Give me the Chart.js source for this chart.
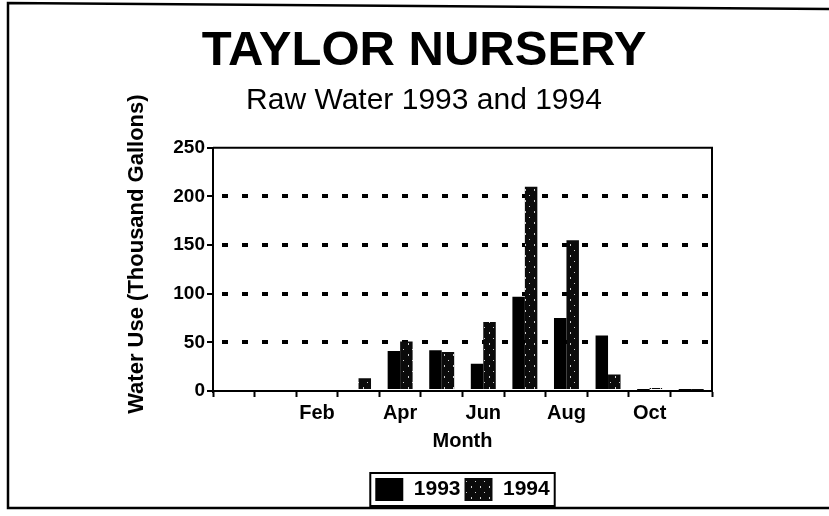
<!DOCTYPE html>
<html>
<head>
<meta charset="utf-8">
<script src="https://cdn.jsdelivr.net/npm/chart.js@4/dist/chart.umd.min.js"></script>
<style>
html,body{margin:0;padding:0;background:#fff;}
#wrap{width:829px;height:516px;position:relative;}
</style>
</head>
<body>
<div id="wrap"><canvas id="c" width="829" height="516"></canvas></div>
<script>
// ---- data ----
const months = ['', 'Jan', 'Feb', 'Mar', 'Apr', 'May', 'Jun', 'Jul', 'Aug', 'Sep', 'Oct', 'Nov'];
const tickLabels = ['', '', 'Feb', '', 'Apr', '', 'Jun', '', 'Aug', '', 'Oct', ''];
const use1993 = [0, 0, 0, 0, 41, 42, 28, 97, 75, 57, 1, 1];
const use1994 = [0, 0, 2, 13, 51, 40, 71, 210, 155, 17, 3, 1];
const seriesNames = ['1993', '1994'];
const yTicks = [0, 50, 100, 150, 200, 250];

const FONT = '"Liberation Sans", Arial, Helvetica, sans-serif';
const canvas = document.getElementById('c');
const ctx = canvas.getContext('2d');

// speckled dark fill for 1994
function speckle() {
  const p = document.createElement('canvas');
  p.width = 9; p.height = 11;
  const g = p.getContext('2d');
  g.fillStyle = '#0b0b0b';
  g.fillRect(0, 0, 9, 11);
  g.fillStyle = '#d0d0d0';
  g.fillRect(3, 2, 1, 2);
  g.fillRect(7, 8, 1, 1);
  return ctx.createPattern(p, 'repeat');
}
const pat1994 = speckle();

const framePlugin = {
  id: 'framePlugin',
  afterDraw(chart) {
    const c = chart.ctx;
    const a = chart.chartArea;
    c.save();
    c.strokeStyle = '#000';
    c.lineWidth = 2;
    // plot frame top & right
    c.beginPath();
    c.moveTo(a.left, a.top);
    c.lineTo(a.right, a.top);
    c.lineTo(a.right, a.bottom);
    c.stroke();
    // outer page frame
    c.lineWidth = 2.5;
    c.beginPath();
    c.moveTo(829, 9);
    c.lineTo(8, 3);
    c.lineTo(8, 508);
    c.lineTo(829, 508);
    c.stroke();
    // legend box
    const hb = chart.legend.legendHitBoxes;
    if (hb && hb.length) {
      let l = Infinity, r = -Infinity, t = Infinity, b = -Infinity;
      hb.forEach(h => { l = Math.min(l, h.left); r = Math.max(r, h.left + h.width); t = Math.min(t, h.top); b = Math.max(b, h.top + h.height); });
      c.lineWidth = 2;
      c.strokeRect(l - 5, t - 5, (r - l) + 10, (b - t) + 10);
    }
    c.restore();
  }
};

new Chart(ctx, {
  type: 'bar',
  data: {
    labels: months,
    datasets: [
      { label: seriesNames[0], data: use1993, backgroundColor: '#000', borderWidth: 0 },
      { label: seriesNames[1], data: use1994, backgroundColor: pat1994, borderWidth: 0 }
    ]
  },
  options: {
    responsive: false,
    animation: false,
    devicePixelRatio: 1,
    layout: { padding: { left: 19, right: 0, top: 0, bottom: 5 } },
    datasets: { bar: { barPercentage: 1.0, categoryPercentage: 0.6 } },
    plugins: {
      title: {
        display: true,
        text: 'TAYLOR NURSERY',
        color: '#000',
        font: { family: FONT, size: 49, weight: 'bold', lineHeight: 1.2 },
        padding: { top: 22, bottom: 2 }
      },
      subtitle: {
        display: true,
        text: 'Raw Water 1993 and 1994',
        color: '#000',
        font: { family: FONT, size: 30, weight: 'normal', lineHeight: 1.2 },
        padding: { top: 0, bottom: 29 }
      },
      legend: {
        position: 'bottom',
        fullSize: false,
        labels: {
          color: '#000',
          font: { family: FONT, size: 21, weight: 'bold' },
          boxWidth: 28,
          boxHeight: 23,
          padding: 4
        }
      },
      tooltip: { enabled: false }
    },
    scales: {
      x: {
        type: 'category',
        offset: true,
        grid: {
          display: true,
          offset: true,
          drawOnChartArea: false,
          tickLength: 6,
          tickColor: '#000',
          tickWidth: 2
        },
        border: { display: true, color: '#000', width: 2 },
        ticks: {
          autoSkip: false,
          maxRotation: 0,
          padding: 4,
          color: '#000',
          font: { family: FONT, size: 20, weight: 'bold' },
          callback: (v, i) => tickLabels[i]
        },
        title: {
          display: true,
          text: 'Month',
          color: '#000',
          font: { family: FONT, size: 20, weight: 'bold', lineHeight: 1.2 },
          padding: { top: 0, bottom: 21 }
        }
      },
      y: {
        min: yTicks[0],
        max: yTicks[yTicks.length - 1],
        afterBuildTicks: s => { s.ticks = yTicks.map(v => ({ value: v })); },
        afterFit: s => { s.width = 194; },
        grid: {
          color: c => (c.tick && c.tick.value > yTicks[0] && c.tick.value < yTicks[yTicks.length - 1]) ? '#000' : 'rgba(0,0,0,0)',
          lineWidth: 4,
          tickLength: 6,
          tickColor: '#000',
          tickWidth: 2,
          tickBorderDash: []
        },
        border: { display: true, color: '#000', width: 2, dash: [6, 14], dashOffset: -8 },
        ticks: {
          padding: 2,
          color: '#000',
          font: { family: FONT, size: 19, weight: 'bold' }
        },
        title: {
          display: true,
          text: '     Water Use (Thousand Gallons)',
          color: '#000',
          font: { family: FONT, size: 22, weight: 'bold', lineHeight: 1.2 },
          padding: { top: 105, bottom: 4 }
        }
      },
      yR: {
        position: 'right',
        min: yTicks[0],
        max: yTicks[yTicks.length - 1],
        afterFit: s => { s.width = 117; },
        grid: { display: false, drawOnChartArea: false },
        border: { display: false },
        ticks: { display: false }
      }
    }
  },
  plugins: [framePlugin]
});
</script>
</body>
</html>
